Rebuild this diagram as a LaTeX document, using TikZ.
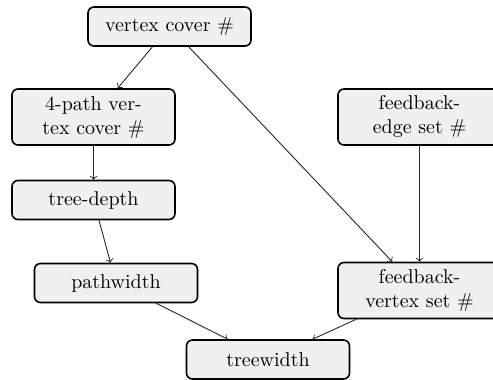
\documentclass[tikz,border=0pt]{standalone}
\usetikzlibrary{arrows}
\definecolor{boxfill}{HTML}{F0F0F0}
\tikzset{
  pbox/.style={draw=black, line width=0.8pt, fill=boxfill, rounded corners=3pt,
    minimum width=81.5pt, minimum height=19.5pt, align=center, inner sep=3.33pt},
  conn/.style={->, line width=0.45pt, draw=black!85}
}
\begin{document}
\begin{tikzpicture}[x=1pt,y=1pt]
\useasboundingbox (0,0) rectangle (246.5,-190);
\node[pbox] (vc)  at (84.75,-13.25) {vertex cover \#};
\node[pbox, minimum height=28pt] (p4)  at (46.75,-58.5) {4-path ver-\\tex cover \#};
\node[pbox] (td)  at (46.75,-100) {tree-depth};
\node[pbox] (pw)  at (58,-141.5) {pathwidth};
\node[pbox] (tw)  at (134,-179.75) {treewidth};
\node[pbox, minimum height=28pt] (fes) at (209.75,-58.5) {feedback-\\edge set \#};
\node[pbox, minimum height=28pt] (fvs) at (209.75,-145.25) {feedback-\\vertex set \#};
\draw[conn] (vc) -- (p4);
\draw[conn] (vc) -- (fvs);
\draw[conn] (p4) -- (td);
\draw[conn] (td) -- (pw);
\draw[conn] (fes) -- (fvs);
\draw[conn] (pw) -- (tw);
\draw[conn] (fvs) -- (tw);
\end{tikzpicture}
\end{document}
